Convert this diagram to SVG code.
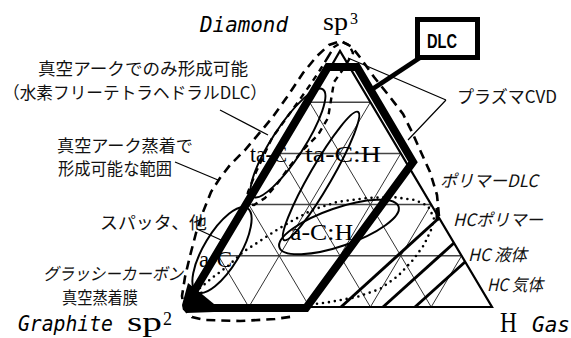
<svg xmlns="http://www.w3.org/2000/svg" width="571" height="338" viewBox="0 0 571 338">
<style>
.grid{stroke:#333;stroke-width:1;fill:none}
.hl{stroke:#444;stroke-width:1.5;fill:none}
.el{stroke:#000;stroke-width:2;fill:none}
.dashA{stroke:#000;stroke-width:2.6;fill:none;stroke-dasharray:9 6}
.dashB{stroke:#000;stroke-width:2.4;fill:none;stroke-dasharray:6 5}
.dot{stroke:#000;stroke-width:2.6;fill:none;stroke-dasharray:0 6;stroke-linecap:round}
.lead{stroke:#000;stroke-width:1.2;fill:none}
.hc{stroke:#000;stroke-width:3;fill:none}
.jp{font-family:"Noto Sans CJK JP","Noto Sans",sans-serif;font-size:17px;fill:#111}
.it{font-style:italic}
.ser{font-family:"Liberation Serif","Noto Serif",serif;fill:#000}
.mono{font-family:"DejaVu Sans Mono","Liberation Mono",monospace;font-style:italic;fill:#000}
</style>
<rect width="571" height="338" fill="#fff"/>

<g id="grid">
<path class="hl" d="M309.6,102.2H370.4M279.2,153.4H400.8M248.8,204.6H431.2M218.4,255.8H461.6"/>
<path class="grid" d="M248.8,307L370.4,102.2M309.6,307L400.8,153.4M370.4,307L431.2,204.6M431.2,307L461.6,255.8M248.8,307L218.4,255.8M309.6,307L248.8,204.6M370.4,307L279.2,153.4M431.2,307L309.6,102.2"/>
</g>

<g id="triangle">
<path d="M329,70L340,51L492,307L300,307" fill="none" stroke="#000" stroke-width="2.2"/>
</g>

<g id="hc-lines">
<path class="hc" d="M341,307L439,218"/>
<path class="hc" d="M383,307L454,243"/>
<path class="hc" d="M415,307L465,262"/>
<path d="M437,208V221" stroke="#000" stroke-width="3"/>
</g>

<g id="regions">
<ellipse id="ta-C-region" class="el" cx="288" cy="143" rx="64" ry="16" transform="rotate(-57 288 143)"/>
<ellipse id="ta-CH-region" class="el" cx="321" cy="176" rx="74" ry="11" transform="rotate(-60 321 176)"/>
<ellipse id="a-CH-region" class="el" cx="339" cy="227" rx="63" ry="19" transform="rotate(-19 339 227)"/>
<ellipse id="a-C-region" class="el" cx="222" cy="250" rx="49" ry="18" transform="rotate(-59 222 250)"/>
<path id="polymer-region" class="dot" d="M200,288L212,278L228,266L243,252L260,241L275,231L290,222L312,210L337,202L367,198L393,197L415,200L428,206L434,218L431,230L424,245L413,260L398,276L380,289L357,297L330,302L300,306L250,307L205,306Z"/>
<path id="arc-only-region" class="dashB" d="M328,57L334,47L342,42L349,45L353,53L344,68L334,82L331,100L328,118L318,135L303,150L290,166L277,184L265,198L254,205L246,204L248,192L256,172L264,155L272,138L285,120L298,102L310,85L320,70Z"/>
<path id="arc-range" class="dashA" d="M439,216L437,195L430,172L420,150L412,132L403,114L390,97L374,77L362,60L352,47L341,41L329,45L317,56L303,73L287,97L272,118L262,130L245,150L230,165L220,178L211,192L203,212L196,233L190,256L185,277L182,296L184,309L192,317L205,320L240,321L275,319L296,316"/>
</g>

<g id="dlc-region">
<polyline points="195,290 328,67 357,67 413,162 306,308 205,308" fill="none" stroke="#000" stroke-width="8" stroke-linejoin="miter"/>
<polygon points="188,283 197,290 214,304 214,312 186,313 182,305" fill="#000"/>
</g>

<g id="dlc-box">
<rect x="417.5" y="19.5" width="60" height="38" fill="#fff" stroke="#000" stroke-width="5"/>
<text x="427" y="48" font-family="Liberation Sans,sans-serif" font-weight="bold" font-size="20" textLength="30" lengthAdjust="spacingAndGlyphs">DLC</text>
</g>

<g id="connectors">
<path d="M421,57L368,92" stroke="#000" stroke-width="4.5"/>
<path class="lead" d="M446,100L348,58M446,100L408,140"/>
<path class="lead" d="M220,110L268,135"/>
<path class="lead" d="M175,162L218,180"/>
<path class="lead" d="M197,229L221,240"/>
</g>

<g id="vertex-labels">
<text class="mono" x="200" y="32" font-size="22" textLength="88" lengthAdjust="spacingAndGlyphs">Diamond</text>
<text class="ser" x="323" y="30" font-size="25" textLength="25" lengthAdjust="spacingAndGlyphs">sp</text>
<text class="ser" x="350" y="24" font-size="16">3</text>
<text class="mono" x="18" y="331" font-size="21" textLength="95" lengthAdjust="spacingAndGlyphs">Graphite</text>
<text class="ser" x="127" y="331" font-size="27" textLength="35" lengthAdjust="spacingAndGlyphs">sp</text>
<text class="ser" x="163" y="325" font-size="18">2</text>
<text class="ser" x="500" y="332" font-size="30" textLength="17" lengthAdjust="spacingAndGlyphs">H</text>
<text class="mono" x="532" y="332" font-size="22" textLength="38" lengthAdjust="spacingAndGlyphs">Gas</text>
</g>

<g id="region-labels">
<text class="ser" x="250" y="162" font-size="24" textLength="37" lengthAdjust="spacingAndGlyphs">ta-C</text>
<text class="ser" x="305" y="162" font-size="24" textLength="76" lengthAdjust="spacingAndGlyphs">ta-C:H</text>
<text class="ser" x="290" y="240" font-size="24" textLength="63" lengthAdjust="spacingAndGlyphs">a-C:H</text>
<text class="ser" x="199" y="267" font-size="24" textLength="33" lengthAdjust="spacingAndGlyphs">a-C</text>
</g>

<g id="notes">
<text class="jp" x="38" y="75" font-size="14" textLength="210" lengthAdjust="spacingAndGlyphs">真空アークでのみ形成可能</text>
<text class="jp" x="3" y="99" font-size="14" textLength="264" lengthAdjust="spacingAndGlyphs">（水素フリーテトラヘドラルDLC）</text>
<text class="jp" x="57" y="152" font-size="13.5" textLength="136" lengthAdjust="spacingAndGlyphs">真空アーク蒸着で</text>
<text class="jp" x="58" y="175" font-size="13.5" textLength="114" lengthAdjust="spacingAndGlyphs">形成可能な範囲</text>
<text class="jp" x="100" y="228.5" font-size="16" textLength="107" lengthAdjust="spacingAndGlyphs">スパッタ、他</text>
<text class="jp it" x="43" y="280" font-size="12.5" textLength="140" lengthAdjust="spacingAndGlyphs">グラッシーカーボン</text>
<text class="jp" x="62" y="304" font-size="12.5" textLength="76" lengthAdjust="spacingAndGlyphs">真空蒸着膜</text>
<text class="jp" x="457" y="103" font-size="15.5" textLength="100" lengthAdjust="spacingAndGlyphs">プラズマCVD</text>
<text class="jp it" x="440" y="186.5" font-size="16" textLength="98" lengthAdjust="spacingAndGlyphs">ポリマーDLC</text>
<text class="jp it" x="453" y="226" font-size="16" textLength="90" lengthAdjust="spacingAndGlyphs">HCポリマー</text>
<text class="jp it" x="468" y="261" font-size="16" textLength="59" lengthAdjust="spacingAndGlyphs">HC 液体</text>
<text class="jp it" x="487" y="291" font-size="16" textLength="56" lengthAdjust="spacingAndGlyphs">HC 気体</text>
</g>
</svg>
